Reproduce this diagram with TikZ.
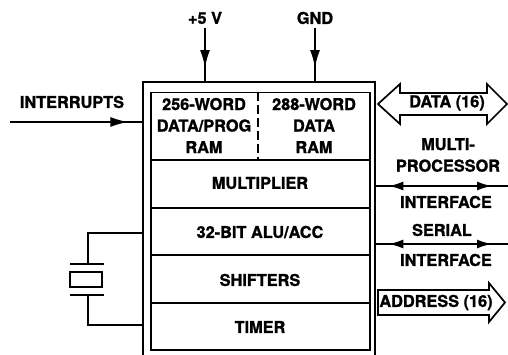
\documentclass[tikz,border=0pt]{standalone}
\usepackage{fontspec}
\setmainfont{TeX Gyre Heros}[BoldFeatures={FakeBold=1.3}]
\usetikzlibrary{arrows.meta,decorations.markings}
\begin{document}
\begin{tikzpicture}[x=1pt,y=-1pt,
  lbl/.style={font=\fontsize{16.3}{21.5}\selectfont\bfseries, inner sep=0pt, align=center},
  wire/.style={line width=2pt},
  thin/.style={line width=1.5pt},
  midarrow/.style={wire, postaction={decorate}, decoration={markings, mark=at position #1 with {\arrow{Latex[length=18pt,width=10pt]}}}},
  twoarrow/.style={wire, postaction={decorate}, decoration={markings,
     mark=at position 0.10 with {\arrowreversed{Latex[length=15pt,width=9pt]}},
     mark=at position 0.88 with {\arrow{Latex[length=15pt,width=9pt]}}}},
  fat/.style={line width=1.7pt, line join=miter}
]
\useasboundingbox (0,0) rectangle (508,355);
% outer box (open at bottom)
\draw[line width=2.8pt] (143,360) -- (143,82) -- (375,82) -- (375,360);
% inner box
\node[draw, thin, minimum width=219pt, minimum height=257pt, inner sep=0pt, anchor=north west] (inner) at (150,92) {};
\coordinate (d1l) at (150,160); \coordinate (d1r) at (369,160);
\coordinate (d2l) at (150,208); \coordinate (d2r) at (369,208);
\coordinate (d3l) at (150,255); \coordinate (d3r) at (369,255);
\coordinate (d4l) at (150,303); \coordinate (d4r) at (369,303);
\draw[thin] (d1l) -- (d1r) (d2l) -- (d2r) (d3l) -- (d3r) (d4l) -- (d4r);
\coordinate (dt) at (258,92); \coordinate (db) at (258,160);
\draw[thin, dash pattern=on 9pt off 4pt] (dt) -- (db);
% block texts
\node[lbl] (ram1) at (204,125.5) {256-WORD\\DATA/PROG\\RAM};
\node[lbl] (ram2) at (314,125.5) {288-WORD\\DATA\\RAM};
\node[lbl] (mul) at (260,183) {MULTIPLIER};
\node[lbl] (alu) at (260,232) {32-BIT ALU/ACC};
\node[lbl] (shf) at (260,280) {SHIFTERS};
\node[lbl] (tim) at (260,327) {TIMER};
% supply
\node[lbl] (v5) at (205,18) {+5 V};
\node[lbl] (gnd) at (315,18) {GND};
\coordinate (v5b) at (205,82); \coordinate (gndb) at (315,82);
\draw[midarrow=0.74] (v5.south) ++(0,4) -- (v5b);
\draw[midarrow=0.74] (gnd.south) ++(0,4) -- (gndb);
% interrupts
\node[lbl] (int) at (72,102) {INTERRUPTS};
\coordinate (ints) at (10,122); \coordinate (inte) at (143,122);
\draw[midarrow=0.89] (ints) -- (inte);
% DATA (16)
\draw[fat] (378,104) -- (400,84) -- (400,93) -- (487,93) -- (487,84) -- (507,104) -- (487,124) -- (487,115) -- (400,115) -- (400,124) -- cycle;
\node[lbl] (data) at (447,103) {DATA (16)};
% multiprocessor
\node[lbl] (mp) at (448,155) {MULTI-\\PROCESSOR};
\node[lbl] (mpi) at (446,202) {INTERFACE};
\coordinate (mpl) at (375,186); \coordinate (mpr) at (508,186);
\draw[twoarrow] (mpl) -- (mpr);
% serial
\node[lbl] (ser) at (442,230) {SERIAL};
\node[lbl] (seri) at (446,260) {INTERFACE};
\coordinate (sl) at (375,244); \coordinate (sr) at (508,244);
\draw[twoarrow] (sl) -- (sr);
% ADDRESS (16)
\draw[fat] (378,290) -- (489,290) -- (489,283) -- (505,302.5) -- (489,322) -- (489,315) -- (378,315) -- cycle;
\node[lbl] (addr) at (436,302.5) {ADDRESS (16)};
% crystal
\coordinate (xt) at (143,233); \coordinate (xb) at (143,325);
\coordinate (xtc) at (88,233); \coordinate (xbc) at (88,325);
\draw[thin] (xt) -- (xtc) -- (88,264);
\draw[thin] (xb) -- (xbc) -- (88,295);
\draw[thin] (70,264) -- (104,264);
\draw[thin] (70,295) -- (104,295);
\node[draw, thin, minimum width=32pt, minimum height=15pt, inner sep=0pt] (xtal) at (86,279.5) {};
\end{tikzpicture}
\end{document}
